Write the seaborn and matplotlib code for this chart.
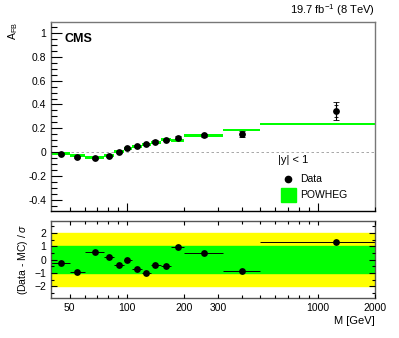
import numpy as np
import matplotlib
matplotlib.use("Agg")
import matplotlib.pyplot as plt
import matplotlib.ticker as mticker
import seaborn as sns

# mass bin edges [GeV]
edges = [40, 50, 60, 76, 86, 96, 106, 120, 133, 150, 171, 200, 320, 500, 2000]
# data points: bin centres, A_FB, errors
mass = [45, 54.7, 67.7, 80.8, 90.8, 100.3, 112.4, 125.7, 140.7, 160, 185.6, 253, 400, 1250]
afb = [-0.015, -0.038, -0.046, -0.027, 0.004, 0.032, 0.052, 0.068, 0.09, 0.102,
       0.123, 0.143, 0.15, 0.345]
afb_err = [0.008, 0.008, 0.008, 0.008, 0.006, 0.006, 0.007, 0.008, 0.009, 0.010,
           0.012, 0.012, 0.025, 0.077]
afb_stat = [0.006, 0.006, 0.006, 0.006, 0.005, 0.005, 0.006, 0.006, 0.007, 0.008,
            0.009, 0.009, 0.018, 0.052]
# POWHEG prediction per bin
powheg = [-0.007, -0.03, -0.046, -0.025, 0.005, 0.03, 0.05, 0.065, 0.085, 0.11,
          0.098, 0.137, 0.187, 0.237]
powheg_err = 0.012
# pulls (Data - MC) / sigma
pull = [-0.22, -0.94, 0.54, 0.22, -0.44, -0.02, -0.72, -1.01, -0.39, -0.47,
        0.96, 0.5, -0.84, 1.36]

sns.set_style("ticks")
plt.rcParams['font.family'] = ['Liberation Sans', 'DejaVu Sans']
plt.rcParams['mathtext.fontset'] = 'custom'
plt.rcParams['mathtext.rm'] = 'Liberation Sans'
plt.rcParams['mathtext.it'] = 'Liberation Sans:italic'
plt.rcParams['font.size'] = 7.5
plt.rcParams['axes.axisbelow'] = False
plt.rcParams['xtick.direction'] = 'in'
plt.rcParams['ytick.direction'] = 'in'
for k in ['xtick.color', 'ytick.color', 'xtick.labelcolor', 'ytick.labelcolor',
          'axes.labelcolor', 'text.color']:
    plt.rcParams[k] = 'black'

fig = plt.figure(figsize=(3.99, 3.38), dpi=100)
ax1 = fig.add_axes([0.128, 0.376, 0.812, 0.559])
ax2 = fig.add_axes([0.128, 0.118, 0.812, 0.228])

lo = np.array(edges[:-1])
wid = np.diff(edges)
pw = np.array(powheg)

# upper panel
ax1.bar(lo, 2 * powheg_err, width=wid, bottom=pw - powheg_err, align='edge',
        color='#00ff00', edgecolor='none', zorder=2)
ax1.axhline(0, color='#999999', lw=0.6, ls=(0, (3, 3)), zorder=1)
ax1.errorbar(mass, afb, yerr=afb_err, fmt='none', ecolor='black', elinewidth=0.8,
             capsize=2, capthick=0.6, zorder=3)
ax1.errorbar(mass, afb, yerr=afb_stat, fmt='none', ecolor='black', elinewidth=0.8,
             capsize=1.5, capthick=0.6, zorder=3)
sns.scatterplot(x=mass, y=afb, ax=ax1, color='black', s=24, edgecolor='black',
                linewidth=0, zorder=4)

ax1.set_xscale('log')
ax1.set_xlim(40, 2000)
ax1.set_ylim(-0.49, 1.09)
ax1.yaxis.set_major_locator(mticker.MultipleLocator(0.2))
ax1.yaxis.set_minor_locator(mticker.MultipleLocator(0.05))
ax1.yaxis.set_major_formatter(mticker.FuncFormatter(lambda v, p: f"{v:g}" if abs(v) > 1e-9 else "0"))
ax1.xaxis.set_major_locator(mticker.FixedLocator([100, 1000]))
ax1.xaxis.set_minor_locator(mticker.FixedLocator([50, 60, 70, 80, 90, 200, 300, 400, 500, 600, 700, 800, 900, 2000]))
ax1.xaxis.set_major_formatter(mticker.NullFormatter())
ax1.xaxis.set_minor_formatter(mticker.NullFormatter())
ax1.tick_params(which='both', direction='in', top=False, right=False, labelsize=7.5,
                color='black')
ax1.tick_params(axis='y', which='major', length=8, width=0.8)
ax1.tick_params(axis='y', which='minor', length=4, width=0.8)
ax1.tick_params(axis='x', which='major', length=6, width=0.8)
ax1.tick_params(axis='x', which='minor', length=3, width=0.8)
ax1.set_ylabel(r"A$_{\rm FB}$", fontsize=7.5, loc='top', labelpad=6)
for s in ['top', 'right']:
    ax1.spines[s].set_color('#777777')
for s in ax1.spines.values():
    s.set_linewidth(1.0)
ax1.spines['bottom'].set_color('black')
ax1.spines['left'].set_color('#555555')

ax1.text(0.04, 0.94, "CMS", transform=ax1.transAxes, fontsize=9, fontweight='bold',
         va='top', ha='left')
ax1.text(1.0, 1.02, r"19.7 fb$^{-1}$ (8 TeV)", transform=ax1.transAxes, fontsize=8,
         ha='right', va='bottom')
ax1.text(0.70, 0.27, "|y| < 1", transform=ax1.transAxes, fontsize=8, ha='left', va='center')
ax1.plot([0.73], [0.17], marker='o', ms=4.5, color='black', transform=ax1.transAxes,
         clip_on=False)
ax1.text(0.77, 0.17, "Data", transform=ax1.transAxes, fontsize=7.5, va='center')
ax1.add_patch(plt.Rectangle((0.71, 0.045), 0.045, 0.075, transform=ax1.transAxes,
                            color='#00ff00', clip_on=False))
ax1.text(0.77, 0.083, "POWHEG", transform=ax1.transAxes, fontsize=7.5, va='center')

# lower panel
ax2.axhspan(-2, 2, color='#ffff00', zorder=0)
ax2.axhspan(-1, 1, color='#00ff00', zorder=1)
xerr_lo = np.array(mass) - lo
xerr_hi = np.array(edges[1:]) - np.array(mass)
ax2.errorbar(mass, pull, xerr=[xerr_lo, xerr_hi], fmt='none', ecolor='black',
             elinewidth=0.7, zorder=2)
sns.scatterplot(x=mass, y=pull, ax=ax2, color='black', s=24, linewidth=0, zorder=3)
ax2.set_xscale('log')
ax2.set_xlim(40, 2000)
ax2.set_ylim(-2.9, 2.9)
ax2.yaxis.set_major_locator(mticker.MultipleLocator(1))
ax2.yaxis.set_minor_locator(mticker.MultipleLocator(0.5))
ax2.xaxis.set_major_locator(mticker.FixedLocator([50, 100, 200, 300, 1000, 2000]))
ax2.xaxis.set_major_formatter(mticker.FixedFormatter(["50", "100", "200", "300", "1000", "2000"]))
ax2.xaxis.set_minor_locator(mticker.FixedLocator([60, 70, 80, 90, 400, 500, 600, 700, 800, 900]))
ax2.xaxis.set_minor_formatter(mticker.NullFormatter())
ax2.tick_params(which='both', direction='in', top=True, right=True, labelsize=7.5,
                color='black')
ax2.tick_params(which='major', length=4, width=0.8)
ax2.tick_params(which='minor', length=2, width=0.8)
ax2.tick_params(axis='x', which='major', length=3)
ax2.set_ylabel(r"(Data - MC) / $\sigma$", fontsize=7.5, labelpad=3)
ax2.set_xlabel("M [GeV]", fontsize=8, loc='right', labelpad=2)
for s in ax2.spines.values():
    s.set_linewidth(1.0)
    s.set_color('#555555')

fig.savefig("out.png", dpi=100)
